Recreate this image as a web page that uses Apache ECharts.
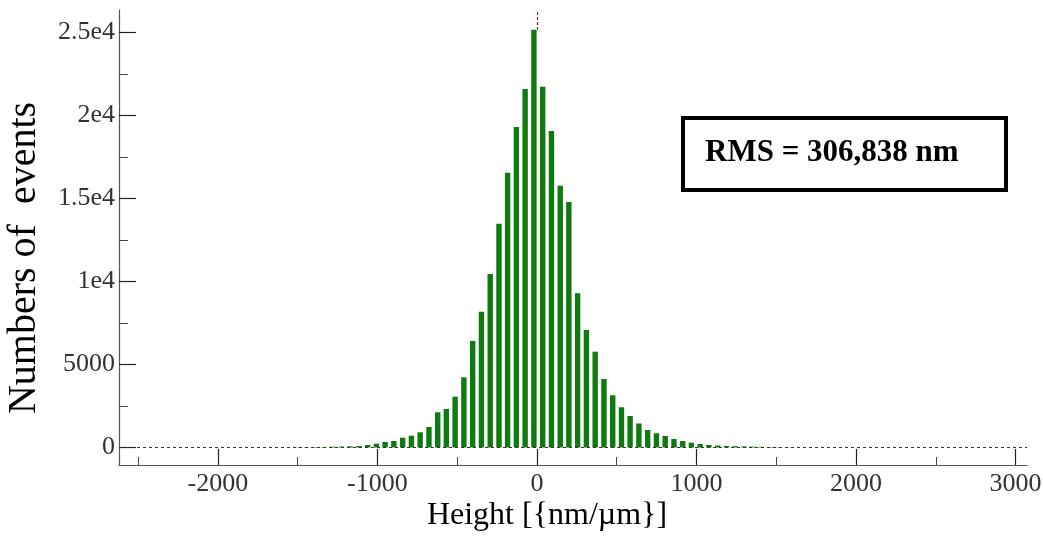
<!DOCTYPE html>
<html>
<head>
<meta charset="utf-8">
<script src="https://cdn.jsdelivr.net/npm/echarts@6/dist/echarts.min.js"></script>
<style>
html,body{margin:0;padding:0;background:#fff;}
#chart{width:1043px;height:543px;}
</style>
</head>
<body>
<div id="chart"></div>
<script>
// Bin centres (nm)
const binCenters = [-1500,-1445,-1391,-1336,-1281,-1226,-1171,-1116,-1061,-1006,
  -952,-897,-842,-787,-732,-677,-622,-568,-513,-458,
  -403,-348,-293,-238,-184,-129,-74,-19,36,91,
  146,200,255,310,365,420,475,530,584,639,
  694,749,804,859,914,968,1023,1078,1133,1188,
  1243,1298,1352,1407,1462,1517,1572];
// Number of events per bin
const counts = [14,20,27,36,48,60,75,90,150,229,
  331,391,590,710,915,1234,2119,2318,3058,4226,
  6412,8176,10445,13474,16545,19296,21584,25150,21722,19055,
  15762,14780,9284,7074,5768,4124,3143,2420,1896,1445,
  1054,855,692,512,391,289,211,150,120,96,
  78,66,54,42,30,24,18];
const xMajorTicks = [-2000,-1000,0,1000,2000,3000];
const xTickLabels = ['-2000','-1000','0','1000','2000','3000'];
const xMinorTicks = [-2500,-1500,-500,500,1500,2500];
const yMajorTicks = [0,5000,10000,15000,20000,25000];
const yTickLabels = ['0','5000','1e4','1.5e4','2e4','2.5e4'];
const yMinorTicks = [2500,7500,12500,17500,22500];
const xTitle = 'Height [{nm/\u00b5m}]';
const yTitle = 'Numbers of  events';
const rmsText = 'RMS = 306,838 nm';

const X_MIN = -2620, X_MAX = 3072, Y_MIN = -1054, Y_MAX = 26340;
const FONT = "'Liberation Serif','Times New Roman',serif";

const data = binCenters.map((x, i) => [x, counts[i]]);
const peak = Math.max(...counts);

const chart = echarts.init(document.getElementById('chart'), null, {renderer: 'canvas'});
const option = {
  animation: false,
  backgroundColor: '#fff',
  grid: {left: 119, top: 10, right: 16, bottom: 78, containLabel: false, outerBoundsMode: 'none'},
  xAxis: [{
    type: 'value', min: X_MIN, max: X_MAX,
    axisLine: {show: true, onZero: false, lineStyle: {color: '#555', width: 1.2}},
    axisTick: {show: true, inside: true, length: 16, customValues: xMajorTicks, lineStyle: {color: '#222', width: 1.2}},
    axisLabel: {show: true, customValues: xMajorTicks, margin: 6, fontFamily: FONT, fontSize: 26, color: '#333',
      formatter: v => xTickLabels[xMajorTicks.indexOf(v)] ?? ''},
    splitLine: {show: false}
  }, {
    type: 'value', min: X_MIN, max: X_MAX, position: 'bottom',
    axisLine: {show: false, onZero: false},
    axisTick: {show: true, inside: true, length: 8, customValues: xMinorTicks, lineStyle: {color: '#444', width: 1}},
    axisLabel: {show: false},
    splitLine: {show: false}
  }],
  yAxis: [{
    type: 'value', min: Y_MIN, max: Y_MAX,
    axisLine: {show: true, onZero: false, lineStyle: {color: '#555', width: 1.2}},
    axisTick: {show: true, inside: true, length: 17, customValues: yMajorTicks, lineStyle: {color: '#222', width: 1.2}},
    axisLabel: {show: true, customValues: yMajorTicks, margin: 4, fontFamily: FONT, fontSize: 26, color: '#333',
      formatter: v => yTickLabels[yMajorTicks.indexOf(v)] ?? ''},
    splitLine: {show: false}
  }, {
    type: 'value', min: Y_MIN, max: Y_MAX, position: 'left',
    axisLine: {show: false, onZero: false},
    axisTick: {show: true, inside: true, length: 9, customValues: yMinorTicks, lineStyle: {color: '#444', width: 1}},
    axisLabel: {show: false},
    splitLine: {show: false}
  }],
  series: [{
    type: 'bar',
    xAxisIndex: 0, yAxisIndex: 0,
    data: data,
    barWidth: 5.4,
    itemStyle: {color: '#0f7a0f'},
    silent: true,
    markLine: {
      silent: true, symbol: 'none', label: {show: false},
      data: [
        {yAxis: 0, lineStyle: {color: '#333', type: [3, 3], width: 1}},
        [{coord: [0, Y_MAX - 120]}, {coord: [0, peak]}]
      ],
      lineStyle: {color: '#8b1a1a', type: [3, 2], width: 1.2}
    }
  }],
  graphic: [{
    type: 'text',
    x: 24, y: 258, rotation: Math.PI / 2,
    style: {text: yTitle, fontFamily: FONT, fontSize: 40, fill: '#000', align: 'center', verticalAlign: 'middle'}
  }, {
    type: 'text',
    x: 547, y: 516,
    style: {text: xTitle, fontFamily: FONT, fontSize: 32, fill: '#000', align: 'center', verticalAlign: 'middle'}
  }, {
    type: 'rect',
    shape: {x: 683, y: 118, width: 323, height: 72},
    style: {fill: '#fff', stroke: '#000', lineWidth: 4},
    z: 100
  }, {
    type: 'text',
    x: 705, y: 153,
    style: {text: rmsText, fontFamily: FONT, fontSize: 31, fontWeight: 'bold', fill: '#000', verticalAlign: 'middle'},
    z: 101
  }]
};
chart.setOption(option);
</script>
</body>
</html>
